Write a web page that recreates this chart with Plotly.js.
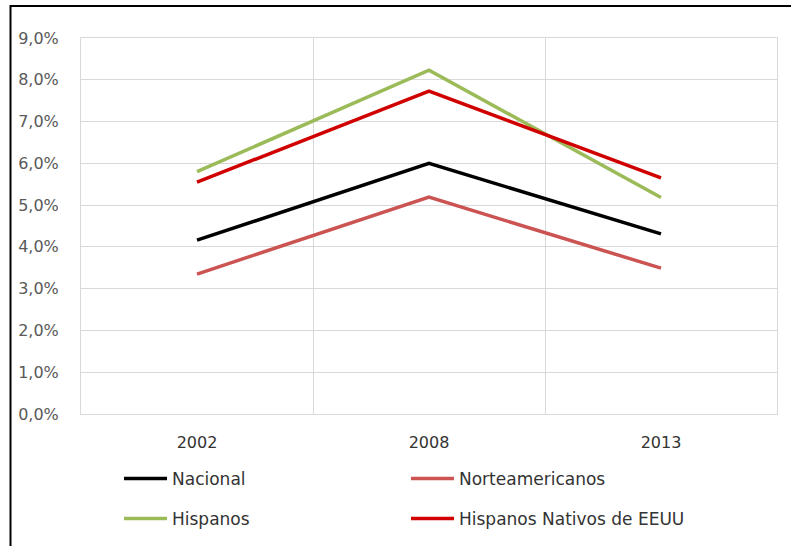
<!DOCTYPE html>
<html>
<head>
<meta charset="utf-8">
<script src="https://cdn.plot.ly/plotly-3.0.1.min.js"></script>
<style>html,body{margin:0;padding:0;background:#fff;}#chart{width:791px;height:546px;}</style>
</head>
<body>
<div id="chart"></div>
<script>
var years = ['2002', '2008', '2013'];
var nacional = [0.0416, 0.0600, 0.0431];
var norteamericanos = [0.0335, 0.0519, 0.0349];
var hispanos = [0.0580, 0.0823, 0.0518];
var hispanosNativos = [0.0555, 0.0773, 0.0565];
var yTicks = [0, 0.01, 0.02, 0.03, 0.04, 0.05, 0.06, 0.07, 0.08, 0.09];

function tr(name, y, color, legend) {
  return {x: years, y: y, name: name, type: 'scatter', mode: 'lines',
    line: {color: color, width: 3.5}, legend: legend, hoverinfo: 'skip'};
}
var data = [
  tr('Nacional', nacional, '#000000', 'legend'),
  tr('Norteamericanos', norteamericanos, '#CB5352', 'legend2'),
  tr('Hispanos', hispanos, '#9BBB59', 'legend3'),
  tr('Hispanos Nativos de EEUU', hispanosNativos, '#D00000', 'legend4')
];
var legFont = {family: 'DejaVu Sans', size: 17, color: '#333333'};
function leg(x, y) {
  return {orientation: 'h', xref: 'container', yref: 'container', x: x, xanchor: 'left',
    y: y, yanchor: 'middle', font: legFont, bgcolor: 'rgba(0,0,0,0)', itemwidth: 43};
}
var layout = {
  width: 791, height: 546,
  margin: {l: 81, r: 14, t: 38, b: 132},
  paper_bgcolor: '#ffffff', plot_bgcolor: '#ffffff',
  separators: ',.',
  showlegend: true,
  xaxis: {type: 'category', range: [-0.5, 2.5], tickson: 'boundaries', showgrid: true,
    gridcolor: '#d9d9d9', gridwidth: 1, ticks: '', showline: true, mirror: true,
    linecolor: '#d9d9d9', linewidth: 1, zeroline: false,
    tickfont: {family: 'DejaVu Sans', size: 16, color: '#333333'}, ticklabelstandoff: 14},
  yaxis: {range: [0, 0.09], tickvals: yTicks, tickformat: '.1%', showgrid: true,
    gridcolor: '#d9d9d9', gridwidth: 1, zeroline: false, showline: true, mirror: true,
    linecolor: '#d9d9d9', linewidth: 1, ticks: '',
    tickfont: {family: 'DejaVu Sans', size: 16, color: '#595959'}, ticklabelstandoff: 18},
  legend: leg(119 / 791, 67 / 546),
  legend2: leg(406 / 791, 67 / 546),
  legend3: leg(119 / 791, 27 / 546),
  legend4: leg(406 / 791, 27 / 546),
  shapes: [{type: 'rect', xref: 'paper', yref: 'paper',
    x0: (10.5 - 81) / 696, x1: 1.1, y0: -0.5, y1: (414 - 6) / 376,
    line: {color: '#000000', width: 2}, fillcolor: 'rgba(0,0,0,0)', layer: 'above'}]
};
Plotly.newPlot('chart', data, layout, {displayModeBar: false, staticPlot: true});
</script>
</body>
</html>
